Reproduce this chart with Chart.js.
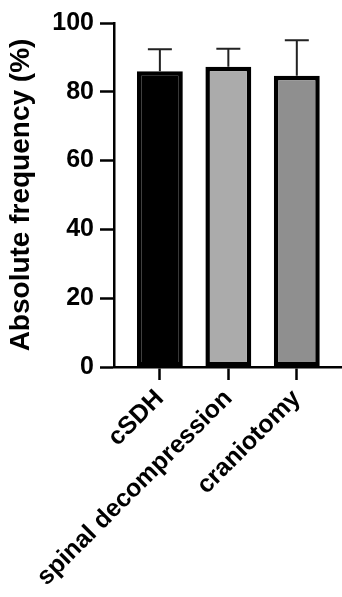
<!DOCTYPE html>
<html>
<head>
<meta charset="utf-8">
<script src="https://cdn.jsdelivr.net/npm/chart.js@4"></script>
<style>
  html, body { margin: 0; padding: 0; background: #fff; }
  #wrap { width: 342px; height: 597px; }
</style>
</head>
<body>
<div id="wrap"><canvas id="freqChart" width="342" height="597"></canvas></div>
<script>
const categories = ['cSDH', 'spinal decompression', 'craniotomy'];
const meanValues = [86.0, 87.3, 84.7];
const errorUp = [6.4, 5.2, 10.3];
const barColors = ['#000000', '#ababab', '#8f8f8f'];
const yTicks = [0, 20, 40, 60, 80, 100];

// draws the upper SD whiskers from the scale values
const errorBars = {
    id: 'errorBars',
    afterDatasetsDraw(chart) {
        const ctx = chart.ctx;
        const yScale = chart.scales.y;
        const meta = chart.getDatasetMeta(0);
        ctx.save();
        ctx.strokeStyle = '#222';
        ctx.lineWidth = 2;
        meta.data.forEach((bar, i) => {
            const y0 = yScale.getPixelForValue(meanValues[i]);
            const y1 = yScale.getPixelForValue(meanValues[i] + errorUp[i]);
            ctx.beginPath();
            ctx.moveTo(bar.x, y0);
            ctx.lineTo(bar.x, y1);
            ctx.moveTo(bar.x - 12, y1);
            ctx.lineTo(bar.x + 12, y1);
            ctx.stroke();
        });
        ctx.restore();
    }
};

const ctx = document.getElementById('freqChart').getContext('2d');
const chart = new Chart(ctx, {
    type: 'bar',
    data: {
        datasets: [{
            data: meanValues.map((v, i) => ({ x: i + 1, y: v })),
            backgroundColor: barColors,
            borderColor: '#000',
            borderWidth: 4.5,
            borderSkipped: false,
            barPercentage: 0.67,
            categoryPercentage: 1
        }]
    },
    options: {
        responsive: false,
        animation: false,
        layout: { padding: { top: 23, right: 0, left: 4, bottom: 0 } },
        plugins: { legend: { display: false }, tooltip: { enabled: false } },
        scales: {
            x: {
                type: 'linear',
                min: 0.33,
                max: 3.66,
                offset: false,
                afterBuildTicks: (scale) => {
                    scale.ticks = categories.map((c, i) => ({ value: i + 1 }));
                },
                afterFit: (scale) => { scale.height = 230; },
                ticks: {
                    callback: (value) => categories[value - 1],
                    minRotation: 45,
                    maxRotation: 45,
                    color: '#000',
                    padding: 4,
                    font: { family: 'Liberation Sans', size: 25, weight: 'bold' }
                },
                grid: { offset: false, drawOnChartArea: false, color: '#000', tickLength: 13, tickWidth: 2.5 },
                border: { color: '#000', width: 2.5 }
            },
            y: {
                min: 0,
                max: 100,
                afterBuildTicks: (scale) => {
                    scale.ticks = yTicks.map(v => ({ value: v }));
                },
                afterFit: (scale) => { scale.width = 110; },
                ticks: {
                    color: '#000',
                    padding: 6,
                    font: { family: 'Liberation Sans', size: 25, weight: 'bold' }
                },
                title: {
                    display: true,
                    text: 'Absolute frequency (%)',
                    color: '#000',
                    padding: 0,
                    font: { family: 'Liberation Sans', size: 28, weight: 'bold' }
                },
                grid: { drawOnChartArea: false, color: '#000', tickLength: 14, tickWidth: 2.5 },
                border: { color: '#000', width: 2.5 }
            }
        }
    },
    plugins: [errorBars]
});
</script>
</body>
</html>
